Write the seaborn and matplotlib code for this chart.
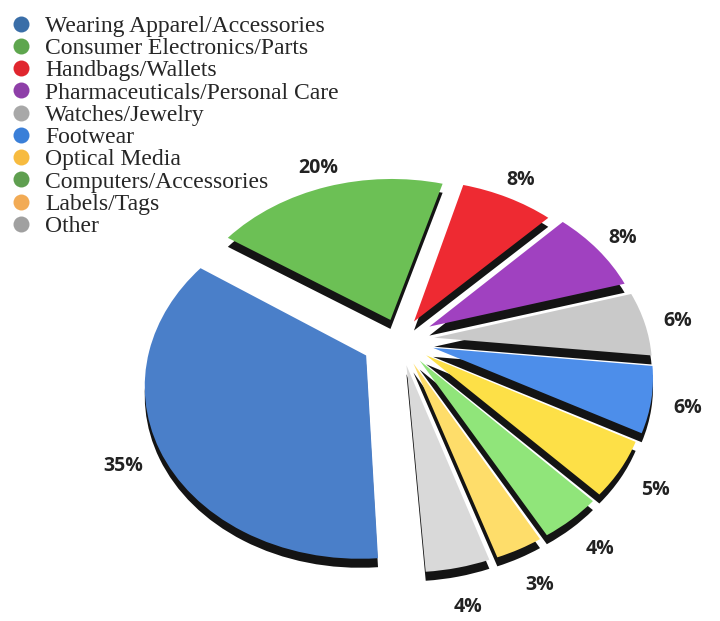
import numpy as np
import matplotlib
matplotlib.use("Agg")
import matplotlib.pyplot as plt
import matplotlib.transforms as mtransforms
from matplotlib.lines import Line2D
import seaborn as sns

# ---- data -------------------------------------------------------------
categories = [
    "Wearing Apparel/Accessories",
    "Consumer Electronics/Parts",
    "Handbags/Wallets",
    "Pharmaceuticals/Personal Care",
    "Watches/Jewelry",
    "Footwear",
    "Optical Media",
    "Computers/Accessories",
    "Labels/Tags",
    "Other",
]
shares = [35, 20, 8, 8, 6, 6, 5, 4, 3, 4]  # percent
pct_labels = [f"{v}%" for v in shares]

face_colors = ["#4a7fc9", "#6cc055", "#ee2a32", "#a041c0", "#c9c9c9",
               "#4d8eea", "#fde047", "#90e57a", "#fedd6a", "#d9d9d9"]
legend_colors = ["#3a6ea8", "#5ea64e", "#e0262e", "#8e3fa8", "#a8a8a8",
                 "#3a7fd8", "#f7bb3f", "#5f9f50", "#f2ab55", "#a0a0a0"]
explode = [0.18, 0.13, 0.13, 0.16, 0.16, 0.16, 0.15, 0.15, 0.15, 0.15]


class Tilt(mtransforms.Transform):
    """Perspective view of a disc lying in a plane tilted away from the viewer."""
    input_dims = 2
    output_dims = 2
    is_separable = False

    def __init__(self, cx, cy, radius, cos_t, recede):
        super().__init__()
        self.cx, self.cy, self.radius = cx, cy, radius
        self.cos_t, self.recede = cos_t, recede

    def transform_non_affine(self, values):
        values = np.asarray(values, dtype=float)
        u, v = values[:, 0], values[:, 1]
        w = 1.0 + self.recede * v
        return np.column_stack([self.cx + self.radius * u / w,
                                self.cy + self.radius * self.cos_t * v / w])


sns.set_theme(style="white")
fig = plt.figure(figsize=(7.2, 6.21), dpi=100)
ax = fig.add_axes([0, 0, 1, 1])

tilt = Tilt(cx=400, cy=621 - 340, radius=215, cos_t=0.78, recede=0.15)
face_tr = tilt + ax.transData
side_tr = face_tr + mtransforms.Affine2D().translate(0, -9)

pie_kw = dict(explode=explode, startangle=-86, counterclock=False,
              wedgeprops=dict(linewidth=0))

# dark extruded sides of the slices
side_wedges, _ = ax.pie(shares, colors=["#141414"] * len(shares), **pie_kw)
for w in side_wedges:
    w.set_transform(side_tr)
    w.set_zorder(1)

# coloured top faces with percentage labels
wedges, texts = ax.pie(shares, colors=sns.color_palette(face_colors),
                       labels=pct_labels, labeldistance=1.16, **pie_kw)
for w in wedges:
    w.set_transform(face_tr)
    w.set_zorder(2)
for t in texts:
    t.set_transform(face_tr)
    t.set_ha("center")
    t.set_va("center")
    t.set_fontfamily("Open Sans")
    t.set_fontweight("bold")
    t.set_fontsize(14)
    t.set_color("#222222")

ax.set_aspect("auto")
ax.set_xlim(0, 720)
ax.set_ylim(0, 621)
ax.axis("off")

handles = [Line2D([], [], linestyle="none", marker="o", markersize=11.5,
                  markerfacecolor=c, markeredgewidth=0)
           for c in sns.color_palette(legend_colors)]
fig.legend(handles, categories, loc="upper left", bbox_to_anchor=(-0.008, 1.0),
           frameon=False, handletextpad=0.5, labelspacing=0.03,
           borderaxespad=0.25, handlelength=1.0,
           prop=dict(family="Liberation Serif", size=17))

fig.savefig("out.png", dpi=100, facecolor="white")
